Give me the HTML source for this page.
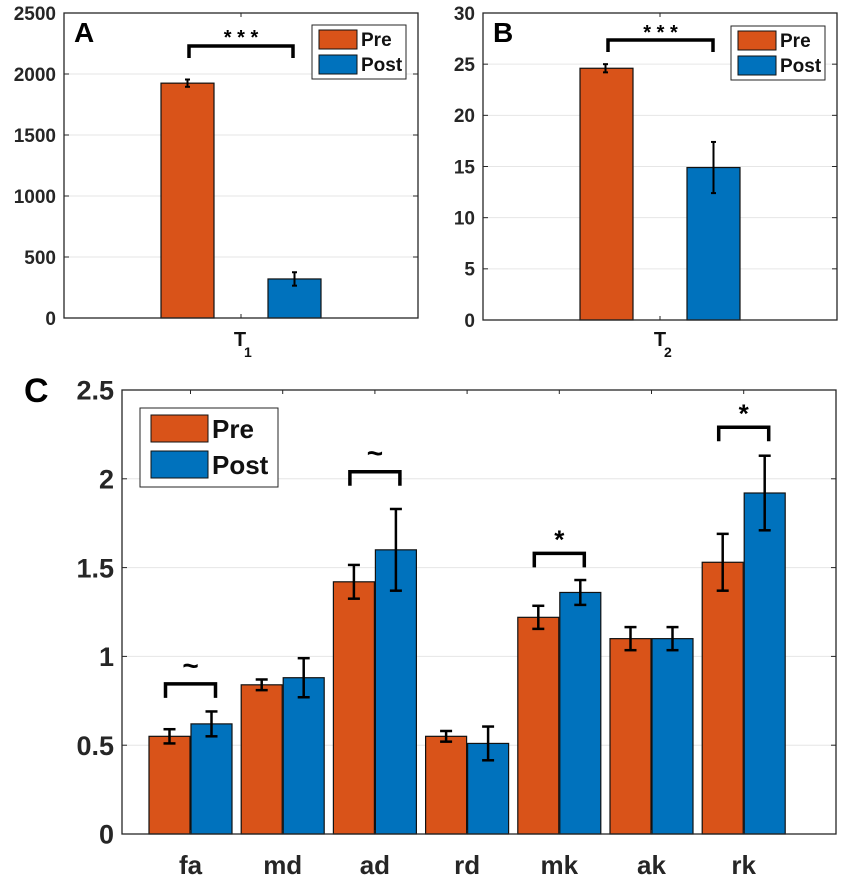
<!DOCTYPE html>
<html><head><meta charset="utf-8"><style>
body{margin:0;background:#fff;}
svg{display:block;font-family:"Liberation Sans",Arial,sans-serif;}
</style></head><body>
<svg id="c" width="842" height="882" viewBox="0 0 842 882"></svg>
<script>
const NS="http://www.w3.org/2000/svg";
const svg=document.getElementById('c');
const catsC=["fa","md","ad","rd","mk","ak","rk"];
const preC=[0.55,0.84,1.42,0.55,1.22,1.10,1.53];
const postC=[0.62,0.88,1.60,0.51,1.36,1.10,1.92];
const preErrC=[0.04,0.03,0.095,0.03,0.065,0.065,0.16];
const postErrC=[0.07,0.11,0.23,0.095,0.07,0.065,0.21];
const ticksC=[0,0.5,1,1.5,2,2.5];
const tickLabelsC=["0","0.5","1","1.5","2","2.5"];
const preA=[1925],postA=[320],preErrA=[30],postErrA=[55];
const ticksA=[0,500,1000,1500,2000,2500];
const preB=[24.6],postB=[14.9],preErrB=[0.4],postErrB=[2.5];
const ticksB=[0,5,10,15,20,25,30];
const sigIdxC=[0,2,4,6];
const sigTextC=["~","~","*","*"];
const sigLevelC=[0.845,2.04,1.58,2.29];
const ORANGE="#D95319",BLUE="#0072BD";
function el(tag,attrs,parent){const e=document.createElementNS(NS,tag);for(const k in attrs)e.setAttribute(k,attrs[k]);(parent||svg).appendChild(e);return e;}
function txt(s,attrs,parent){const e=el('text',attrs,parent);e.textContent=s;return e;}

function panel(o){
  const g=el('g',{});
  
  
  const y=v=>o.y1-(v-o.ymin)/(o.ymax-o.ymin)*(o.y1-o.y0);
  o.ticks.forEach((t,k)=>{
    const yy=y(t);
    if(k>0&&k<o.ticks.length-1){const l=el('line',{x1:o.x0,x2:o.x1,y1:yy,y2:yy,stroke:'#e6e6e6','stroke-width':1},g);}
    el('line',{x1:o.x0,x2:o.x0+5,y1:yy,y2:yy,stroke:'#262626'},g);
    el('line',{x1:o.x1,x2:o.x1-5,y1:yy,y2:yy,stroke:'#262626'},g);
    const tl=txt(o.tickLabels?o.tickLabels[k]:String(t),{x:o.x0-8,y:yy+o.fs*0.36,'text-anchor':'end','font-size':o.fs,'font-weight':'bold',fill:'#262626'},g);
    
  });
  const n=o.pre.length;
  for(let i=0;i<n;i++){
    const cx=o.cx(i);
    [[o.pre,o.preErr,ORANGE,-1],[o.post,o.postErr,BLUE,0]].forEach(([v,e,col,s],si)=>{
      const bx=s<0?cx+o.off[0]:cx+o.off[1];
      const r=el('rect',{x:bx,y:y(v[i]),width:o.bw,height:y(0)-y(v[i]),fill:col,stroke:'#111','stroke-width':1.2},g);
      
      
      const ex=bx+o.bw/2+(o.eoff?o.eoff[si]:0);
      const a=y(v[i]+e[i]),b=y(v[i]-e[i]),cw=o.cap;
      const eg=el('g',{stroke:'#000','stroke-width':o.ew},g);
      
      el('line',{x1:ex,x2:ex,y1:a,y2:b},eg);
      el('line',{x1:ex-cw,x2:ex+cw,y1:a,y2:a},eg);
      el('line',{x1:ex-cw,x2:ex+cw,y1:b,y2:b},eg);
    });
  }
  const bx=el('rect',{x:o.x0,y:o.y0,width:o.x1-o.x0,height:o.y1-o.y0,fill:'none',stroke:'#262626','stroke-width':1.3},g);
  
  for(let i=0;i<n;i++){const cx=o.cx(i);el('line',{x1:cx,x2:cx,y1:o.y1,y2:o.y1-4,stroke:'#262626'},g);el('line',{x1:cx,x2:cx,y1:o.y0,y2:o.y0+4,stroke:'#262626'},g);}
  return {g,y};
}

function legend(x,y,w,h,sw,sh,fs,gap,name){
  const g=el('g',{});
  
  el('rect',{x,y,width:w,height:h,fill:'#fff',stroke:'#262626','stroke-width':1},g);
  [["Pre",ORANGE],["Post",BLUE]].forEach(([t,c],k)=>{
    const yy=y+gap.top+k*gap.step;
    el('rect',{x:x+gap.left,y:yy,width:sw,height:sh,fill:c,stroke:'#111','stroke-width':1},g);
    const l=txt(t,{x:x+gap.left+sw+4,y:yy+sh*0.85,'font-size':fs,'font-weight':'bold',fill:'#111'},g);
    
  });
}
function bracket(x1,x2,yt,yb,lw,label,fs,ly,name){
  const g=el('g',{});
  
  el('path',{d:`M${x1},${yb} V${yt} H${x2} V${yb}`,fill:'none',stroke:'#000','stroke-width':lw},g);
  txt(label,{x:(x1+x2)/2,y:ly,'text-anchor':'middle','font-size':fs,'font-weight':'bold',fill:'#000'},g);
}

// Panel A
panel({name:'panel-a',x0:64,x1:418,y0:13,y1:318,ymin:0,ymax:2500,ticks:ticksA,fs:19,pre:preA,post:postA,preErr:preErrA,postErr:postErrA,
  cx:i=>241,off:[-80,27],bw:53,cap:2.5,ew:2});
txt('A',{x:74,y:42,'font-size':28,'font-weight':'bold',fill:'#000'});
const t1=txt('T',{x:240,y:346,'font-size':20,'font-weight':'bold',fill:'#111','text-anchor':'middle'});

txt('1',{x:244,y:357,'font-size':14,'font-weight':'bold',fill:'#111'});
legend(312,25,94,54,38,19,19,{left:7,top:5,step:25},'legend-a');
bracket(189,293,46,58,3.5,'* * *',20,44,'significance-a');

// Panel B
panel({name:'panel-b',x0:483,x1:837,y0:13,y1:320,ymin:0,ymax:30,ticks:ticksB,fs:19,pre:preB,post:postB,preErr:preErrB,postErr:postErrB,
  cx:i=>660,off:[-80,27],bw:53,cap:2.5,ew:2,eoff:[-1,0]});
txt('B',{x:493,y:42,'font-size':28,'font-weight':'bold',fill:'#000'});
const t2=txt('T',{x:660,y:346,'font-size':20,'font-weight':'bold',fill:'#111','text-anchor':'middle'});

txt('2',{x:664,y:357,'font-size':14,'font-weight':'bold',fill:'#111'});
legend(731,26,94,54,38,19,19,{left:7,top:5,step:25},'legend-b');
bracket(608,713,40,52,3.5,'* * *',20,39,'significance-b');

// Panel C
const cxC=i=>190.5+i*92.2;
const C=panel({name:'panel-c',x0:122,x1:836,y0:390,y1:834,ymin:0,ymax:2.5,ticks:ticksC,tickLabels:tickLabelsC,fs:27,pre:preC,post:postC,preErr:preErrC,postErr:postErrC,cats:catsC,
  cx:cxC,off:[-41.5,0.5],bw:41,cap:6,ew:2.5});
catsC.forEach((c,i)=>{const t=txt(c,{x:cxC(i),y:874,'text-anchor':'middle','font-size':26,'font-weight':'bold',fill:'#262626'});});
txt('C',{x:24,y:402,'font-size':34,'font-weight':'bold',fill:'#000'});
legend(140,408,138,79,57,27,26,{left:11,top:7,step:36},'legend-c');
sigIdxC.forEach((idx,k)=>{
  const cx=cxC(idx);
  const yt=C.y(sigLevelC[k]);
  const isStar=sigTextC[k]==='*';
  bracket(cx-25,cx+25,yt,yt+14,3.5,sigTextC[k],isStar?26:28,isStar?yt-5:yt-9,'significance-'+catsC[idx]);
});
</script>
</body></html>
